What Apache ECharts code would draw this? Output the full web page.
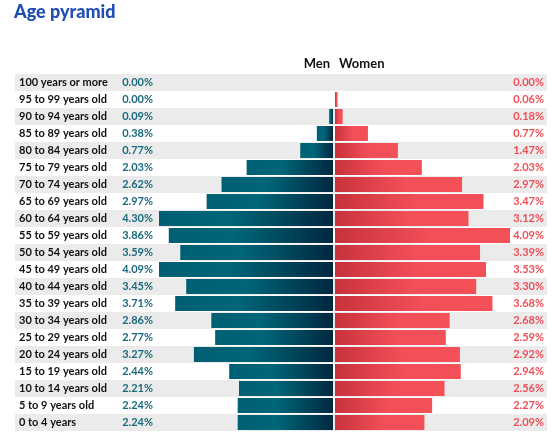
<!DOCTYPE html>
<html>
<head>
<meta charset="utf-8">
<script src="https://cdn.jsdelivr.net/npm/echarts@6/dist/echarts.min.js"></script>
<style>
  html, body { margin: 0; padding: 0; background: #fff; }
  #main { width: 560px; height: 436px; }
</style>
</head>
<body>
<div id="main"></div>
<script>
var myChart = echarts.init(document.getElementById('main'));

// top to bottom
var ages = [
    '100 years or more', '95 to 99 years old', '90 to 94 years old', '85 to 89 years old',
    '80 to 84 years old', '75 to 79 years old', '70 to 74 years old', '65 to 69 years old',
    '60 to 64 years old', '55 to 59 years old', '50 to 54 years old', '45 to 49 years old',
    '40 to 44 years old', '35 to 39 years old', '30 to 34 years old', '25 to 29 years old',
    '20 to 24 years old', '15 to 19 years old', '10 to 14 years old', '5 to 9 years old',
    '0 to 4 years'
];
var men = [0.00, 0.00, 0.09, 0.38, 0.77, 2.03, 2.62, 2.97, 4.30, 3.86, 3.59, 4.09,
    3.45, 3.71, 2.86, 2.77, 3.27, 2.44, 2.21, 2.24, 2.24];
var women = [0.00, 0.06, 0.18, 0.77, 1.47, 2.03, 2.97, 3.47, 3.12, 4.09, 3.39, 3.53,
    3.30, 3.68, 2.68, 2.59, 2.92, 2.94, 2.56, 2.27, 2.09];
var axisMax = 4.09;

var font = 'Lato';
var pct = function (v) { return v.toFixed(2) + '%'; };

option = {
    backgroundColor: '#fff',
    animation: false,
    title: [
        {
            text: 'Age pyramid',
            left: 9, top: -2,
            textStyle: { color: '#1f4fb5', fontSize: 18, fontWeight: 900, fontFamily: font }
        },
        {
            text: 'Men',
            right: 225, top: 52,
            textStyle: { color: '#111', fontSize: 13, fontWeight: 'bold', fontFamily: font }
        },
        {
            text: 'Women',
            left: 334, top: 52,
            textStyle: { color: '#111', fontSize: 13, fontWeight: 'bold', fontFamily: font }
        }
    ],
    grid: [
        { left: 15, right: 13, top: 74, height: 357 },
        { left: 159, width: 174, top: 74, height: 357 },
        { left: 335, width: 175, top: 74, height: 357 }
    ],
    xAxis: [
        { gridIndex: 0, type: 'value', show: false },
        { gridIndex: 1, type: 'value', min: 0, max: axisMax, inverse: true, show: false },
        { gridIndex: 2, type: 'value', min: 0, max: axisMax, show: false }
    ],
    yAxis: [
        {
            gridIndex: 0, type: 'category', data: ages, inverse: true,
            axisLine: { show: false }, axisTick: { show: false },
            splitArea: { show: true, areaStyle: { color: ['#ebebeb', '#ffffff'] } },
            axisLabel: {
                inside: true, margin: 4, color: '#111', fontSize: 11,
                fontWeight: 'bold', fontFamily: font
            }
        },
        {
            gridIndex: 1, type: 'category', data: ages, inverse: true,
            axisLine: { show: false }, axisTick: { show: false },
            axisLabel: {
                margin: 6, color: '#1b6a7d', fontSize: 11, fontWeight: 'bold', fontFamily: font,
                formatter: function (v, i) { return pct(men[i]); }
            }
        },
        {
            gridIndex: 2, type: 'category', data: ages, inverse: true, position: 'right',
            axisLine: { show: false }, axisTick: { show: false },
            axisLabel: {
                margin: 34, align: 'right', color: '#f04e57', fontSize: 11,
                fontWeight: 'bold', fontFamily: font,
                formatter: function (v, i) { return pct(women[i]); }
            }
        }
    ],
    series: [
        {
            name: 'Men',
            type: 'bar',
            xAxisIndex: 1, yAxisIndex: 1,
            data: men,
            barCategoryGap: '12%',
            clip: true,
            itemStyle: {
                color: new echarts.graphic.LinearGradient(0, 0, 1, 0, [
                    { offset: 0, color: '#005f72' },
                    { offset: 0.4, color: '#006678' },
                    { offset: 1, color: '#002840' }
                ])
            }
        },
        {
            name: 'Women',
            type: 'bar',
            xAxisIndex: 2, yAxisIndex: 2,
            data: women,
            barCategoryGap: '12%',
            clip: true,
            itemStyle: {
                color: new echarts.graphic.LinearGradient(0, 0, 1, 0, [
                    { offset: 0, color: '#c8323b' },
                    { offset: 0.55, color: '#f24f58' },
                    { offset: 1, color: '#f45058' }
                ])
            }
        }
    ]
};

myChart.setOption(option);
</script>
</body>
</html>
